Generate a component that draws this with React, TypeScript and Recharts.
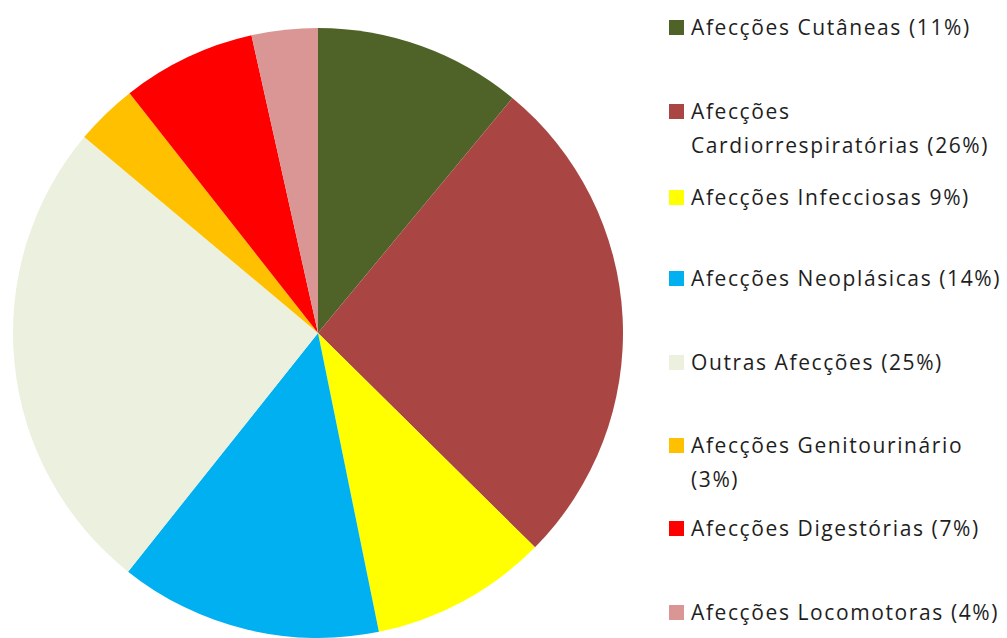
import React from "react";
import { PieChart, Pie, Cell } from "recharts";

const categories = [
  "Afecções Cutâneas (11%)",
  "Afecções Cardiorrespiratórias (26%)",
  "Afecções Infecciosas 9%)",
  "Afecções Neoplásicas (14%)",
  "Outras Afecções (25%)",
  "Afecções Genitourinário (3%)",
  "Afecções Digestórias (7%)",
  "Afecções Locomotoras (4%)",
];
const legendLines = [
  ["Afecções Cutâneas (11%)"],
  ["Afecções", "Cardiorrespiratórias (26%)"],
  ["Afecções Infecciosas 9%)"],
  ["Afecções Neoplásicas (14%)"],
  ["Outras Afecções (25%)"],
  ["Afecções Genitourinário", "(3%)"],
  ["Afecções Digestórias (7%)"],
  ["Afecções Locomotoras (4%)"],
];
const values = [11.0, 26.4, 9.4, 13.9, 25.4, 3.3, 7.1, 3.5];
const colors = ["#4F6228", "#A94643", "#FFFF00", "#00B0F0", "#EBF1DE", "#FFC000", "#FF0000", "#D99694"];

// layout: top of each legend item's first line (px from chart top)
const legendTops = [13, 97, 183, 264, 348, 431, 514, 598];

const data = categories.map((name, i) => ({ name, value: values[i] }));

const FONT = "'Open Sans', 'Noto Sans', sans-serif";

const LegendBlock = () => (
  <div style={{ position: "absolute", left: 669, top: 0, width: 338, height: 638 }}>
    {legendLines.map((lines, i) => (
      <div key={i} style={{ position: "absolute", left: 0, top: legendTops[i] }}>
        <div
          style={{
            position: "absolute",
            left: 0,
            top: 7,
            width: 15,
            height: 15,
            background: colors[i],
          }}
        />
        {lines.map((t, j) => (
          <div
            key={j}
            style={{
              position: "absolute",
              left: 22,
              top: j * 34,
              whiteSpace: "nowrap",
              fontFamily: FONT,
              fontSize: 21,
              lineHeight: "28px",
              color: "#1e1e1e",
              letterSpacing: 1.6,
            }}
          >
            {t}
          </div>
        ))}
      </div>
    ))}
  </div>
);

export default function App() {
  return (
    <div style={{ position: "fixed", left: 0, top: 0, width: 1007, height: 638, background: "#fff", overflow: "hidden" }}>
      <PieChart width={1007} height={638} margin={{ top: 0, right: 0, bottom: 0, left: 0 }}>
        <Pie
          data={data}
          dataKey="value"
          nameKey="name"
          cx={318}
          cy={333}
          outerRadius={305}
          startAngle={90}
          endAngle={-270}
          stroke="none"
          isAnimationActive={false}
        >
          {data.map((d, i) => (
            <Cell key={d.name} fill={colors[i]} />
          ))}
        </Pie>
      </PieChart>
      <LegendBlock />
    </div>
  );
}
